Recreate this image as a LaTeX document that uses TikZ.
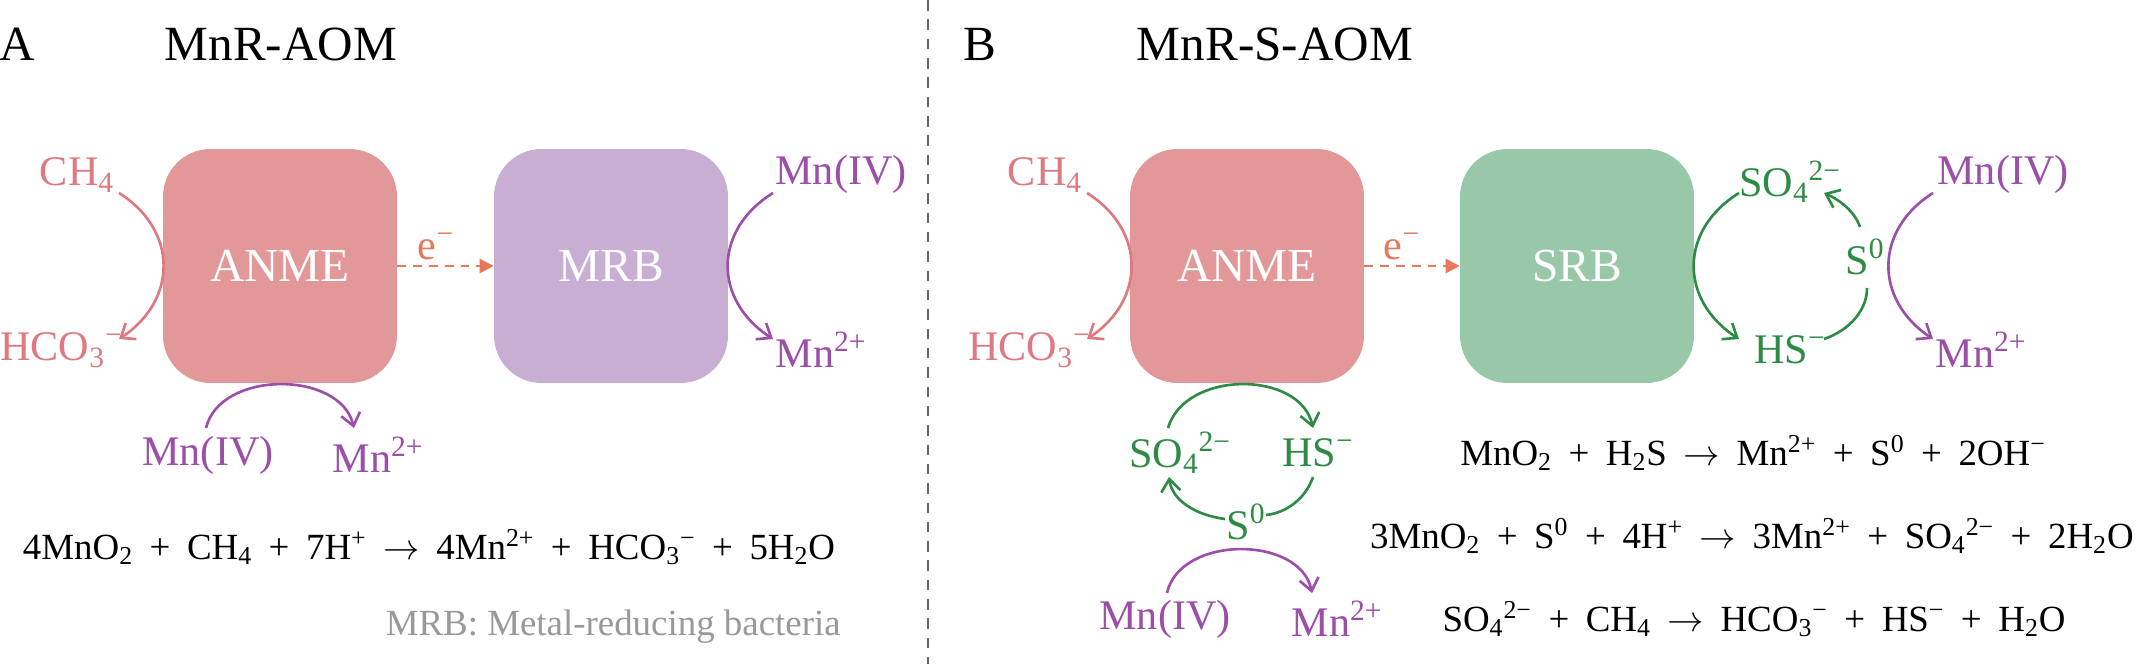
\documentclass[tikz,border=0pt]{standalone}
\usepackage{fontspec}
\setmainfont{Liberation Serif}
\usetikzlibrary{arrows.meta}
\definecolor{boxpink}{HTML}{E29898}
\definecolor{boxpurple}{HTML}{C9AED4}
\definecolor{boxgreen}{HTML}{98C8A8}
\definecolor{tpink}{HTML}{E07880}
\definecolor{tpurple}{HTML}{9B4FA8}
\definecolor{tgreen}{HTML}{2E8B45}
\definecolor{eorange}{HTML}{E8785A}
\newcommand{\sbs}[1]{\textsubscript{#1}}
\newcommand{\sps}[1]{\textsuperscript{#1}}
\newcommand{\pl}{\hspace{0.45em}+\hspace{0.45em}}
\newcommand{\ar}{\hspace{0.45em}$\rightarrow$\hspace{0.45em}}
\tikzset{
  cell/.style={rounded corners=0.95cm, minimum width=4.68cm, minimum height=4.68cm, text=white, font=\fontsize{27}{30}\selectfont, inner sep=0pt},
  title/.style={font=\fontsize{28}{32}\selectfont, inner sep=0pt},
  lbl/.style={font=\fontsize{24}{28}\selectfont, inner sep=0pt},
  eqn/.style={font=\fontsize{21}{25}\selectfont, inner sep=0pt},
  flow/.style={line width=1.5pt, -{Straight Barb[length=7pt,width=11pt]}},
  plain/.style={line width=1.5pt}
}
\begin{document}
\begin{tikzpicture}[x=0.02cm,y=-0.02cm]
\useasboundingbox (0,0) rectangle (2136,664);
\fill[white] (0,0) rectangle (2136,664);
\draw[gray!80!black, dashed, line width=1.2pt, dash pattern=on 6pt off 5pt] (928,0) -- (928,664);
% Panel A
\node[title] (lA) at (17,44) {A};
\node[title] (tA) at (281,44) {MnR-AOM};
\node[cell, fill=boxpink] (anA) at (280,266) {ANME};
\node[cell, fill=boxpurple] (mrb) at (611,266) {MRB};
\draw[eorange, line width=1.5pt, dash pattern=on 5pt off 4pt, -{Triangle[length=8pt,width=8pt]}] (anA.east) -- (mrb.west);
\node[lbl, text=eorange] (eA) at (436,246) {e\sps{−}};
\node[lbl, text=tpink] (ch4A) at (77,175) {CH\sbs{4}};
\node[lbl, text=tpink, anchor=west] (hcoA) at (0,350) {HCO\sbs{3}\sps{−}};
\draw[flow, tpink] (119,193) .. controls (178,230) and (178,300) .. (119,339);
\node[lbl, text=tpurple] (mn4A) at (841,174) {Mn(IV)};
\node[lbl, text=tpurple] (mn2A) at (821,350) {Mn\sps{2+}};
\draw[flow, tpurple] (773,193) .. controls (713,230) and (713,300) .. (773,339);
\node[lbl, text=tpurple] (mn4Ab) at (208,455) {Mn(IV)};
\node[lbl, text=tpurple] (mn2Ab) at (378,455) {Mn\sps{2+}};
\draw[flow, tpurple] (206,428) .. controls (220,370) and (340,370) .. (354,428);
\node[eqn] (eqA) at (429,547) {4MnO\sbs{2}\pl CH\sbs{4}\pl 7H\sps{+}\ar 4Mn\sps{2+}\pl HCO\sbs{3}\sps{−}\pl 5H\sbs{2}O};
\node[eqn, text=gray!80, anchor=east] (noteA) at (841,627) {MRB: Metal-reducing bacteria};
% Panel B
\node[title] (lB) at (980,44) {B};
\node[title] (tB) at (1275,44) {MnR-S-AOM};
\node[cell, fill=boxpink] (anB) at (1247,266) {ANME};
\node[cell, fill=boxgreen] (srb) at (1577,266) {SRB};
\draw[eorange, line width=1.5pt, dash pattern=on 5pt off 4pt, -{Triangle[length=8pt,width=8pt]}] (anB.east) -- (srb.west);
\node[lbl, text=eorange] (eB) at (1402,246) {e\sps{−}};
\node[lbl, text=tpink] (ch4B) at (1045,175) {CH\sbs{4}};
\node[lbl, text=tpink, anchor=west] (hcoB) at (968,350) {HCO\sbs{3}\sps{−}};
\draw[flow, tpink] (1087,193) .. controls (1146,230) and (1146,300) .. (1087,339);
% SRB cycle
\node[lbl, text=tgreen] (so4R) at (1790,182) {SO\sbs{4}\sps{2−}};
\node[lbl, text=tgreen] (hsR) at (1790,350) {HS\sps{−}};
\node[lbl, text=tgreen] (s0R) at (1865,257) {S\sps{0}};
\draw[flow, tgreen] (1739,193) .. controls (1679,230) and (1679,300) .. (1739,339);
\draw[plain, tgreen] (1824,339) .. controls (1850,330) and (1867,310) .. (1867,288);
\draw[flow, tgreen] (1860,227) .. controls (1855,212) and (1840,200) .. (1824,193);
\node[lbl, text=tpurple] (mn4B) at (2003,174) {Mn(IV)};
\node[lbl, text=tpurple] (mn2B) at (1981,350) {Mn\sps{2+}};
\draw[flow, tpurple] (1933,193) .. controls (1874,230) and (1874,300) .. (1933,339);
% bottom cycle
\node[lbl, text=tgreen] (so4B) at (1180,453) {SO\sbs{4}\sps{2−}};
\node[lbl, text=tgreen] (hsB) at (1318,453) {HS\sps{−}};
\node[lbl, text=tgreen] (s0B) at (1246,522) {S\sps{0}};
\draw[flow, tgreen] (1168,428) .. controls (1185,370) and (1300,370) .. (1313,428);
\draw[plain, tgreen] (1313,477) .. controls (1305,500) and (1285,513) .. (1266,515);
\draw[flow, tgreen] (1225,519) .. controls (1195,515) and (1172,500) .. (1169,477);
\node[lbl, text=tpurple] (mn4Bb) at (1165,619) {Mn(IV)};
\node[lbl, text=tpurple] (mn2Bb) at (1337,619) {Mn\sps{2+}};
\draw[flow, tpurple] (1167,593) .. controls (1180,535) and (1300,535) .. (1312,593);
\node[eqn] (eq1) at (1753,453) {MnO\sbs{2}\pl H\sbs{2}S\ar Mn\sps{2+}\pl S\sps{0}\pl 2OH\sps{−}};
\node[eqn, anchor=east] (eq2) at (2134,536) {3MnO\sbs{2}\pl S\sps{0}\pl 4H\sps{+}\ar 3Mn\sps{2+}\pl SO\sbs{4}\sps{2−}\pl 2H\sbs{2}O};
\node[eqn] (eq3) at (1754,619) {SO\sbs{4}\sps{2−}\pl CH\sbs{4}\ar HCO\sbs{3}\sps{−}\pl HS\sps{−}\pl H\sbs{2}O};
\end{tikzpicture}
\end{document}
